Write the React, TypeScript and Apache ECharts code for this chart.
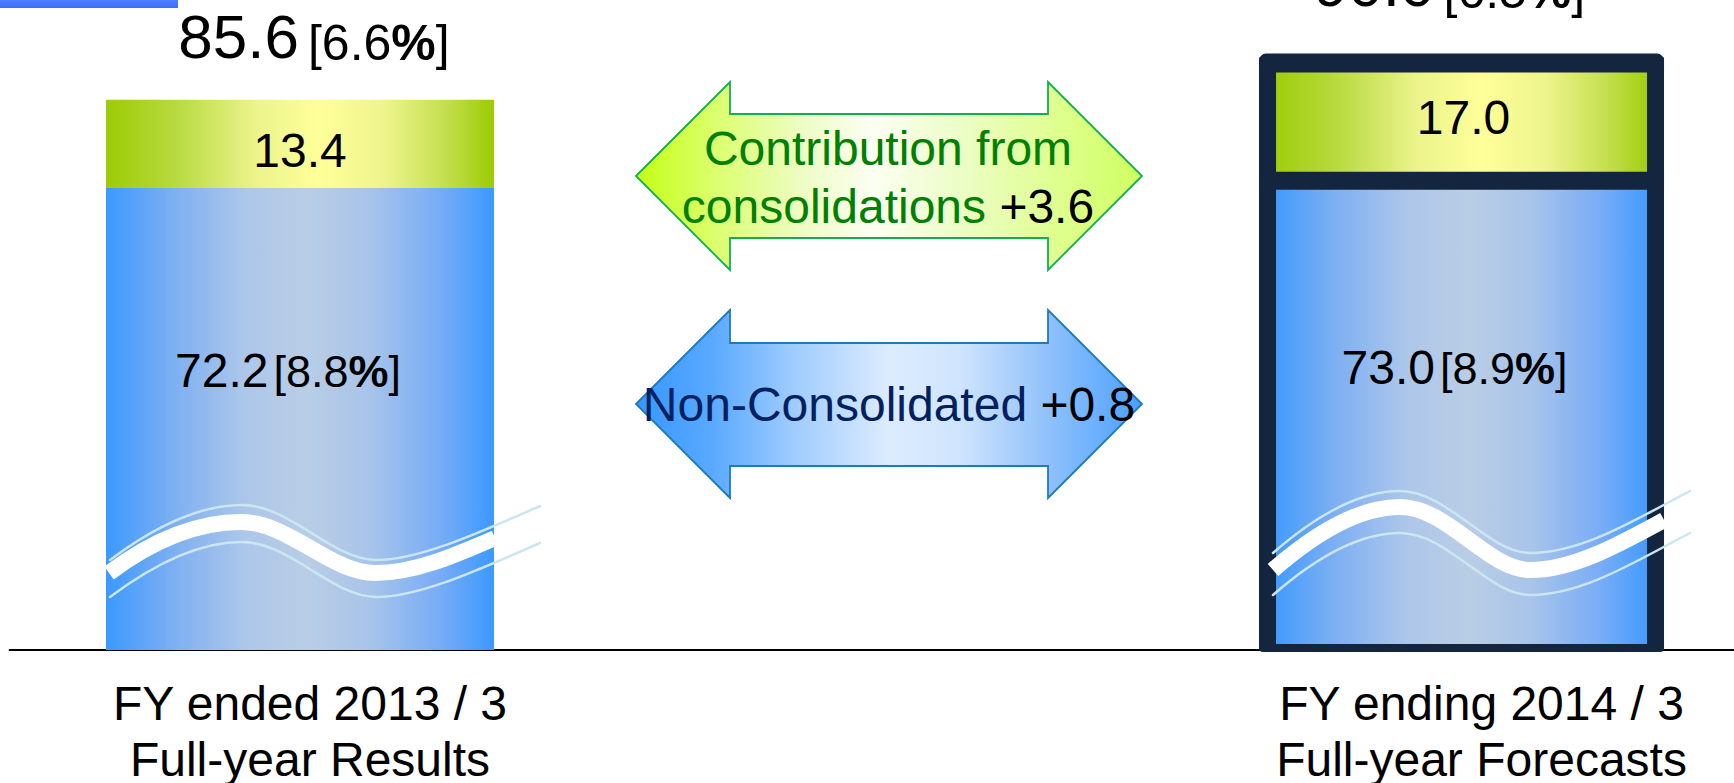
import React, { useEffect, useRef } from 'react';
import * as echarts from 'echarts';

// ---------- data ----------
const categories = ['FY ended 2013 / 3\nFull-year Results', '', 'FY ending 2014 / 3\nFull-year Forecasts'];
const nonConsolidated: (number | null)[] = [72.2, null, 73.0];
const nonConsolidatedMargin: (number | null)[] = [8.8, null, 8.9];
const consolidationContribution: (number | null)[] = [13.4, null, 17.0];
const totalMargin: (number | null)[] = [6.6, null, 6.5];
const forecastIndex = 2;
const arrowTexts = { consolidated: ['Contribution from', 'consolidations'], nonConsolidated: 'Non-Consolidated' };

// ---------- styles ----------
const FONT = '"Liberation Sans", Arial, Helvetica, sans-serif';
const FRAME = '#14263f';
const BAR_W = 388;
const Y_MIN = 2.2;
const Y_MAX = 100.7;
const blueLabelOffset = [[-12, 0], null, [-7, 0]];
const greenLabelOffset = [[0, 7], null, [2, -9]];
const totalLabelY = [-67, null, -90];
const totalLabelX = [14, null, -12];

const blueGrad = () =>
  new echarts.graphic.LinearGradient(0, 0, 1, 0, [
    { offset: 0, color: '#3b99ff' },
    { offset: 0.18, color: '#7fb0f2' },
    { offset: 0.36, color: '#adc7ea' },
    { offset: 0.52, color: '#b9cde5' },
    { offset: 0.68, color: '#a8c4ea' },
    { offset: 0.86, color: '#78acf6' },
    { offset: 1, color: '#3b99ff' },
  ]);
const greenGrad = () =>
  new echarts.graphic.LinearGradient(0, 0, 1, 0, [
    { offset: 0, color: '#9ccc04' },
    { offset: 0.18, color: '#b8da40' },
    { offset: 0.38, color: '#eaf38a' },
    { offset: 0.55, color: '#ffff99' },
    { offset: 0.72, color: '#eef48c' },
    { offset: 0.88, color: '#c2de4c' },
    { offset: 1, color: '#9ccc04' },
  ]);

echarts.graphic.registerShape(
  'waveLThin',
  echarts.graphic.extendPath('M0,0 C40,-30 85,-55 132,-55 C180,-55 222,0 266,0 C310,0 370,-28 430,-54', {})
);
echarts.graphic.registerShape(
  'waveLThick',
  echarts.graphic.extendPath('M0,0 C40,-30 85,-51 132,-51 C180,-51 222,0 266,0 C305,0 345,-17 386,-35', {})
);
echarts.graphic.registerShape(
  'waveRThin',
  echarts.graphic.extendPath('M0,0 C40,-35 85,-62 127,-62 C175,-62 215,0 257,0 C310,0 365,-35 417,-62', {})
);
echarts.graphic.registerShape(
  'waveRThick',
  echarts.graphic.extendPath('M0,0 C40,-35 85,-63 127,-63 C175,-63 215,0 257,0 C300,0 345,-25 391,-50', {})
);

function buildOption() {
  const fmt = (v: number) => v.toFixed(1);
  const totals = nonConsolidated.map((v, i) =>
    v == null || consolidationContribution[i] == null ? null : v + (consolidationContribution[i] as number)
  );
  const diffCons = (consolidationContribution[2] as number) - (consolidationContribution[0] as number);
  const diffNon = (nonConsolidated[2] as number) - (nonConsolidated[0] as number);

  const blueData = nonConsolidated.map((v, i) =>
    v == null ? null : { value: v, itemStyle: { color: blueGrad() }, label: { offset: blueLabelOffset[i] } }
  );
  const greenData = consolidationContribution.map((v, i) =>
    v == null ? null : { value: v, itemStyle: { color: greenGrad() }, label: { offset: greenLabelOffset[i] } }
  );
  const totalData = totals.map((t, i) =>
    t == null
      ? null
      : { value: 0, label: { position: ['50%', totalLabelY[i]], offset: [totalLabelX[i], 0] } }
  );

  const waveThin = { stroke: '#cbe5f1', lineWidth: 2.5, fill: null, lineCap: 'round' };
  const waveThick = { stroke: '#ffffff', lineWidth: 16, fill: null, lineCap: 'butt' };

  const txt = (size: number, lh: number, extra: any = {}) => ({
    fontSize: size,
    lineHeight: lh,
    color: '#000',
    fontFamily: FONT,
    verticalAlign: 'bottom',
    ...extra,
  });

  return {
    animation: false,
    backgroundColor: '#ffffff',
    grid: { left: 9.6, right: -17.9, top: 0, bottom: 133, containLabel: false, outerBoundsMode: 'none' },
    xAxis: {
      type: 'category',
      data: categories,
      axisLine: { show: true, lineStyle: { color: '#000000', width: 2 } },
      axisTick: { show: false },
      axisLabel: {
        interval: 0,
        margin: 25,
        formatter: (val: string, idx: number) => {
          if (!val) return '';
          const tok = idx === 0 ? 'l' : 'r';
          return val
            .split('\n')
            .map((s) => `{${tok}|${s}}`)
            .join('\n');
        },
        rich: {
          l: { fontSize: 48, lineHeight: 56, color: '#000', fontFamily: FONT, padding: [0, 0, 0, 20] },
          r: { fontSize: 48, lineHeight: 56, color: '#000', fontFamily: FONT, padding: [0, 0, 0, 40] },
        },
      },
    },
    yAxis: { type: 'value', min: Y_MIN, max: Y_MAX, show: false },
    series: [
      {
        name: 'Non-Consolidated',
        type: 'bar',
        stack: 'total',
        barWidth: BAR_W,
        data: blueData,
        z: 2,
        label: {
          show: true,
          position: ['50%', '38.6%'],
          align: 'center',
          verticalAlign: 'middle',
          formatter: (p: any) =>
            `{v|${fmt(p.value)}}{q|[${fmt(nonConsolidatedMargin[p.dataIndex] as number)}}{b|%}{p|]}`,
          rich: {
            v: txt(48, 56),
            q: txt(45, 46, { padding: [0, 0, 0, 5] }),
            p: txt(45, 46),
            b: txt(45, 46, { fontWeight: 'bold' }),
          },
        },
      },
      {
        name: 'Contribution from consolidations',
        type: 'bar',
        stack: 'total',
        barWidth: BAR_W,
        data: greenData,
        z: 3,
        label: {
          show: true,
          position: 'inside',
          formatter: (p: any) => fmt(p.value),
          fontSize: 48,
          color: '#000',
          fontFamily: FONT,
        },
      },
      {
        name: 'Total',
        type: 'bar',
        stack: 'total',
        barWidth: BAR_W,
        data: totalData,
        z: 4,
        itemStyle: { color: 'rgba(0,0,0,0)' },
        label: {
          show: true,
          align: 'center',
          verticalAlign: 'middle',
          formatter: (p: any) =>
            `{v|${fmt(totals[p.dataIndex] as number)}}{q|[${fmt(totalMargin[p.dataIndex] as number)}}{b|%}{p|]}`,
          rich: {
            v: txt(62, 70),
            q: txt(50, 54, { padding: [0, 0, 0, 9] }),
            p: txt(50, 54),
            b: txt(50, 54, { fontWeight: 'bold' }),
          },
        },
      },
      {
        name: 'Forecast frame',
        type: 'custom',
        z: 5,
        silent: true,
        clip: false,
        data: [[forecastIndex, nonConsolidated[forecastIndex], totals[forecastIndex]]],
        renderItem: (params: any, api: any) => {
          const idx = api.value(0);
          const blue = api.value(1);
          const tot = api.value(2);
          const pBlue = api.coord([idx, blue]);
          const cx = pBlue[0];
          const yBlue = pBlue[1];
          const yTot = api.coord([idx, tot])[1];
          const yBase = api.coord([idx, Y_MIN])[1];
          const S = 17; // side thickness
          const T = 17; // top thickness
          const SEP = 18; // separator thickness
          const W = BAR_W + S;
          const L = cx - W / 2;
          const top = yTot - T;
          const bottom = yBase + 2;
          const st = { fill: FRAME };
          return {
            type: 'group',
            children: [
              { type: 'rect', shape: { x: L, y: top, width: W, height: T + 2, r: [7, 7, 0, 0] }, style: st },
              { type: 'rect', shape: { x: L, y: top + 4, width: S, height: bottom - top - 8 }, style: st },
              { type: 'rect', shape: { x: L + W - S, y: top + 4, width: S, height: bottom - top - 8 }, style: st },
              { type: 'rect', shape: { x: L, y: yBlue - SEP / 2 - 2, width: W, height: SEP }, style: st },
              { type: 'rect', shape: { x: L, y: yBase - 6, width: W, height: 8, r: [0, 0, 4, 4] }, style: st },
            ],
          };
        },
      },
    ],
    graphic: [
      {
        type: 'rect',
        z: 100,
        shape: { x: 0, y: 0, width: 178, height: 8 },
        style: {
          fill: new echarts.graphic.LinearGradient(0, 0, 0, 1, [
            { offset: 0, color: '#4c80ff' },
            { offset: 1, color: '#3e6cff' },
          ]),
        },
      },
      // green double arrow
      {
        type: 'polygon',
        z: 100,
        shape: {
          points: [
            [636, 176], [730, 82], [730, 114], [1048, 114], [1048, 82], [1142, 176],
            [1048, 270], [1048, 238], [730, 238], [730, 270],
          ],
        },
        style: {
          fill: new echarts.graphic.LinearGradient(0, 0, 1, 0, [
            { offset: 0, color: '#c4ff14' },
            { offset: 0.15, color: '#daff6a' },
            { offset: 0.33, color: '#eefcc4' },
            { offset: 0.47, color: '#fbfff2' },
            { offset: 0.62, color: '#eefdcc' },
            { offset: 0.85, color: '#ddff8a' },
            { offset: 1, color: '#d0ff60' },
          ]),
          stroke: '#10b050',
          lineWidth: 1.8,
        },
      },
      // blue double arrow
      {
        type: 'polygon',
        z: 100,
        shape: {
          points: [
            [636, 404], [730, 310], [730, 343], [1048, 343], [1048, 310], [1142, 404],
            [1048, 498], [1048, 466], [730, 466], [730, 498],
          ],
        },
        style: {
          fill: new echarts.graphic.LinearGradient(0, 0, 1, 0, [
            { offset: 0, color: '#3597ff' },
            { offset: 0.15, color: '#5aa9ff' },
            { offset: 0.32, color: '#a2cdfe' },
            { offset: 0.5, color: '#dcecfe' },
            { offset: 0.64, color: '#cfe4fd' },
            { offset: 0.82, color: '#8ec0fb' },
            { offset: 1, color: '#4aa0ff' },
          ]),
          stroke: '#1a7bbd',
          lineWidth: 1.8,
        },
      },
      {
        type: 'text',
        z: 110,
        x: 888,
        y: 177,
        style: {
          text: `{g|${arrowTexts.consolidated[0]}}\n{g|${arrowTexts.consolidated[1]} }{k|+${diffCons.toFixed(1)}}`,
          align: 'center',
          verticalAlign: 'middle',
          rich: {
            g: { fill: '#008000', fontSize: 48, fontFamily: FONT, lineHeight: 58 },
            k: { fill: '#000000', fontSize: 48, fontFamily: FONT, lineHeight: 58 },
          },
        },
      },
      {
        type: 'text',
        z: 110,
        x: 889,
        y: 404,
        style: {
          text: `{n|${arrowTexts.nonConsolidated} }{k|+${diffNon.toFixed(1)}}`,
          align: 'center',
          verticalAlign: 'middle',
          rich: {
            n: { fill: '#002060', fontSize: 48, fontFamily: FONT, lineHeight: 58 },
            k: { fill: '#000000', fontSize: 48, fontFamily: FONT, lineHeight: 58 },
          },
        },
      },
      // axis-break marks (waves)
      { type: 'waveLThin', z: 100, x: 110, y: 560, style: waveThin },
      { type: 'waveLThin', z: 100, x: 110, y: 597, style: waveThin },
      { type: 'waveLThick', z: 101, x: 109, y: 573, style: waveThick },
      { type: 'waveRThin', z: 100, x: 1273, y: 553, style: waveThin },
      { type: 'waveRThin', z: 100, x: 1273, y: 595, style: waveThin },
      { type: 'waveRThick', z: 101, x: 1273, y: 570, style: waveThick },
    ],
  };
}

export default function App() {
  const ref = useRef<HTMLDivElement>(null);
  useEffect(() => {
    if (!ref.current) return;
    const chart = echarts.init(ref.current, undefined, { renderer: 'svg' });
    chart.setOption(buildOption() as any);
    return () => chart.dispose();
  }, []);
  return (
    <div
      ref={ref}
      style={{ position: 'fixed', left: 0, top: 0, width: 1734, height: 783, background: '#fff' }}
    />
  );
}
